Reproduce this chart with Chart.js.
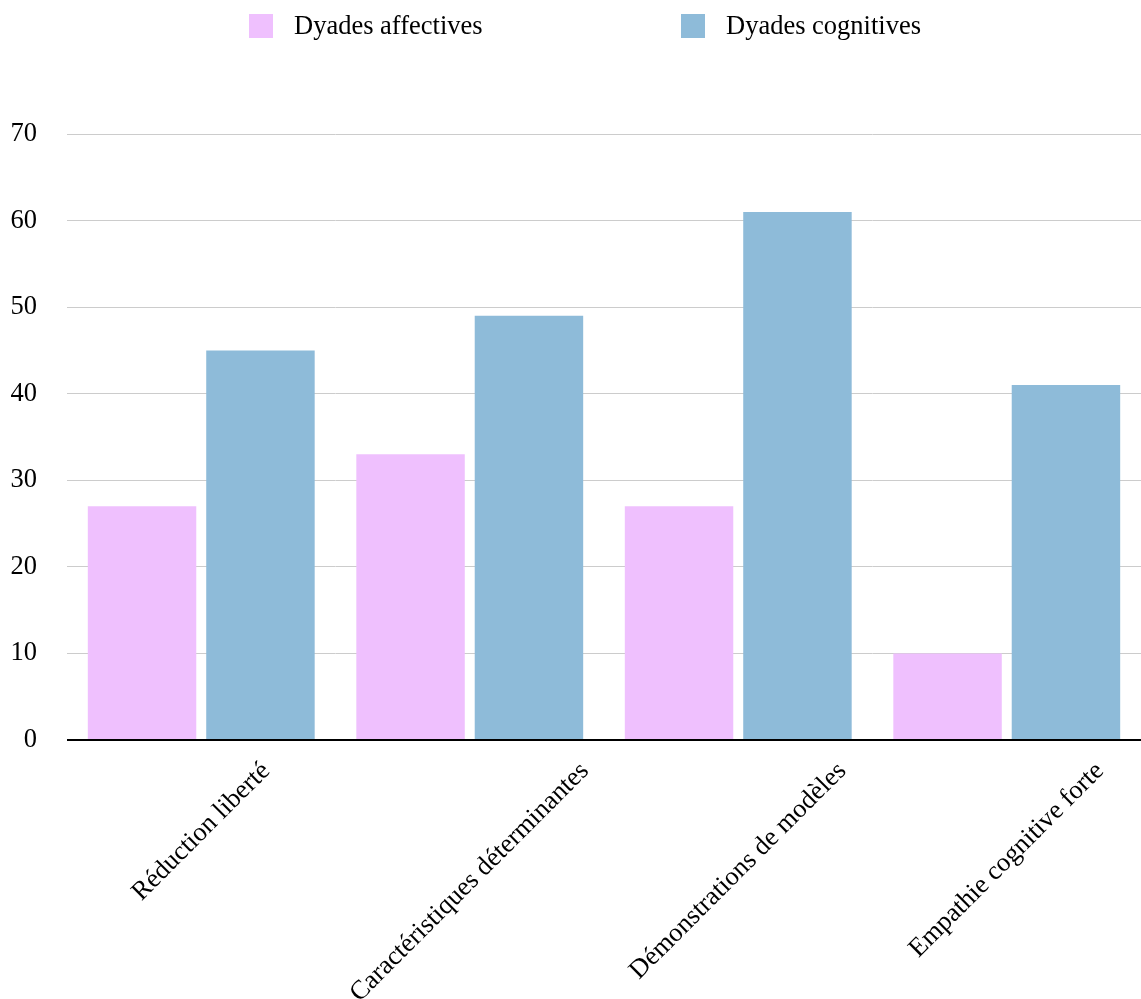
<!DOCTYPE html>
<html>
<head>
<meta charset="utf-8">
<script src="https://cdn.jsdelivr.net/npm/chart.js@4.4.1/dist/chart.umd.min.js"></script>
<style>
  html, body { margin: 0; padding: 0; background: #fff; }
  #wrap { width: 1141px; height: 999px; }
</style>
</head>
<body>
<div id="wrap"><canvas id="chart" width="1141" height="999"></canvas></div>
<script>
// --- DATA ---
const categories = ['Réduction liberté', 'Caractéristiques déterminantes', 'Démonstrations de modèles', 'Empathie cognitive forte'];
const seriesNames = ['Dyades affectives', 'Dyades cognitives'];
const affectives = [27, 33, 27, 10];
const cognitives = [45, 49, 61, 41];
const yTicks = [0, 10, 20, 30, 40, 50, 60, 70];

const colors = ['#EFC0FE', '#8EBBD9'];
const FONT = '"Liberation Serif", "Times New Roman", serif';
const FSIZE = 26.5;

// legend drawn by hand, Google-style spacing
const legendPlugin = {
  id: 'topLegend',
  afterDraw(chart) {
    const ctx = chart.ctx;
    const boxX = [249, 681];
    ctx.save();
    ctx.font = FSIZE + 'px ' + FONT;
    ctx.textBaseline = 'middle';
    chart.data.datasets.forEach((ds, i) => {
      ctx.fillStyle = ds.backgroundColor;
      ctx.fillRect(boxX[i], 14, 24, 24);
      ctx.fillStyle = '#000';
      ctx.fillText(ds.label, boxX[i] + 45, 27);
    });
    ctx.restore();
  }
};

// x labels rotated 45deg, centred on the tick
const xLabelPlugin = {
  id: 'xLabels',
  afterDraw(chart) {
    const ctx = chart.ctx;
    const xs = chart.scales.x;
    const top = chart.chartArea.bottom + 27;
    ctx.save();
    ctx.font = FSIZE + 'px ' + FONT;
    ctx.fillStyle = '#000';
    ctx.textAlign = 'center';
    ctx.textBaseline = 'middle';
    chart.data.labels.forEach((lab, i) => {
      const x = xs.getPixelForTick(i);
      const w = ctx.measureText(lab).width;
      const cy = top + (w / 2) * Math.SQRT1_2;
      ctx.save();
      ctx.translate(x, cy);
      ctx.rotate(-Math.PI / 4);
      ctx.fillText(lab, 0, 0);
      ctx.restore();
    });
    ctx.restore();
  }
};

new Chart(document.getElementById('chart'), {
  type: 'bar',
  data: {
    labels: categories,
    datasets: [
      { label: seriesNames[0], data: affectives, backgroundColor: colors[0] },
      { label: seriesNames[1], data: cognitives, backgroundColor: colors[1] }
    ]
  },
  options: {
    responsive: false,
    animation: false,
    layout: { padding: { top: 134, bottom: 259, left: 0, right: 0 } },
    datasets: { bar: { categoryPercentage: 0.882, barPercentage: 0.916 } },
    plugins: {
      legend: { display: false },
      tooltip: { enabled: false }
    },
    scales: {
      x: { display: false },
      y: {
        min: 0,
        max: 70,
        afterBuildTicks(scale) {
          scale.ticks = yTicks.map(v => ({ value: v }));
        },
        afterFit(scale) { scale.width = 67; },
        border: { display: false },
        grid: {
          drawTicks: false,
          color: c => c.tick && c.tick.value === 0 ? '#000' : '#cccccc',
          lineWidth: c => c.tick && c.tick.value === 0 ? 2 : 1
        },
        ticks: {
          padding: 30,
          color: '#000',
          font: { family: FONT, size: FSIZE }
        }
      }
    }
  },
  plugins: [legendPlugin, xLabelPlugin]
});
</script>
</body>
</html>
